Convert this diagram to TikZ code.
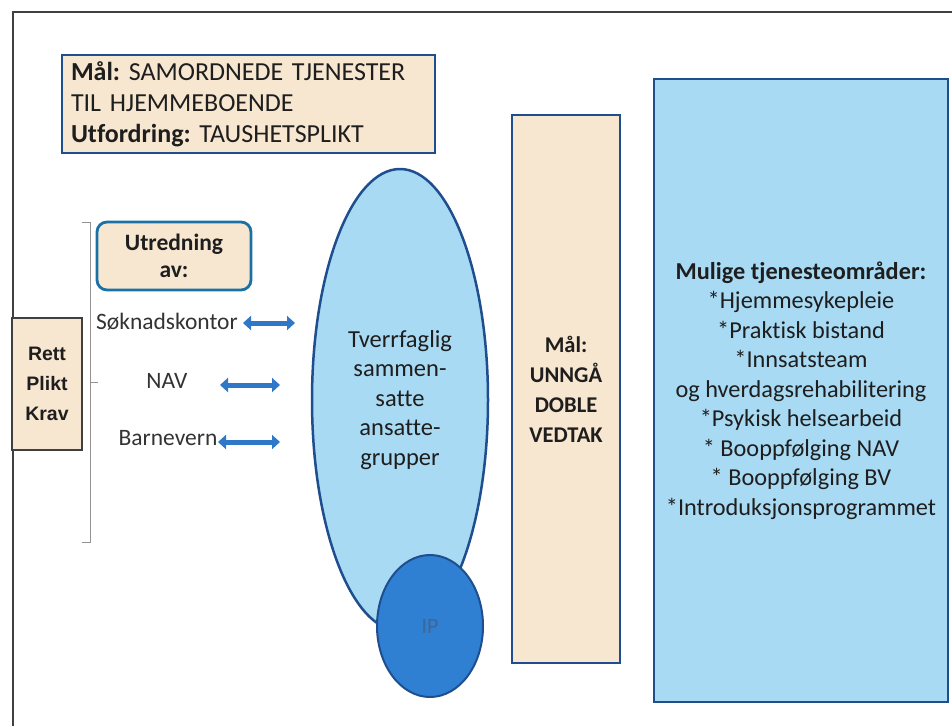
\documentclass[tikz,border=0pt]{standalone}
\usepackage{fontspec}
\setmainfont{Carlito}[Ligatures=NoCommon]
\newfontfamily\arialfam{Liberation Sans}
\usetikzlibrary{shapes.geometric,arrows.meta}
\definecolor{beige}{HTML}{F7E7D0}
\definecolor{skyfill}{HTML}{A9DAF3}
\definecolor{navy}{HTML}{1F4E8F}
\definecolor{ipblue}{HTML}{2F80D3}
\definecolor{iptext}{HTML}{3D6699}
\definecolor{arrowblue}{HTML}{2F77C7}
\definecolor{ink}{HTML}{1E1E1E}
\definecolor{label}{HTML}{333333}
\frenchspacing
\begin{document}
\begin{tikzpicture}[x=1pt,y=-1pt,
  frameline/.style={draw=ink!85, line width=2.5pt},
  beigebox/.style={draw=navy, fill=beige, line width=2.8pt, inner sep=0pt, text=ink},
  bluebox/.style={draw=navy, fill=skyfill, line width=2.8pt, inner sep=0pt, text=ink},
  bracketline/.style={draw=gray!85, line width=1pt},
  unitlabel/.style={text=label, inner sep=0pt, font=\fontsize{23.5}{28}\selectfont},
  dblarrow/.style={draw=arrowblue, line width=5pt,
    {Triangle[length=8pt,width=14pt]}-{Triangle[length=8pt,width=14pt]}}]
\useasboundingbox (0,0) rectangle (952,726);

% outer frame (top and left edges)
\coordinate (frameTR) at (952,12);
\coordinate (frameTL) at (13,12);
\coordinate (frameBL) at (13,726);
\draw[frameline] (frameTR) -- (frameTL) -- (frameBL);

% goal / challenge box
\node[beigebox, minimum width=373, minimum height=98, align=left,
      text width=355, font=\fontsize{26}{31}\selectfont] (goal) at (248.5,104)
  {\textbf{Mål:} SAMORDNEDE TJENESTER\\TIL HJEMMEBOENDE\\\textbf{Utfordring:} TAUSHETSPLIKT};

% left side: rights box, bracket and assessing units
\node[beigebox, draw=ink!85, minimum width=70, minimum height=132, align=center,
      font=\arialfam\bfseries\fontsize{19.5}{30}\selectfont] (rett) at (47,384)
  {Rett\\Plikt\\Krav};

\coordinate (brTopL) at (82,222);
\coordinate (brTopR) at (90,222);
\coordinate (brBotR) at (90,542);
\coordinate (brBotL) at (82,542);
\coordinate (brMid) at (90,382);
\coordinate (brTip) at (98,382);
\draw[bracketline] (brTopL) -- (brTopR) -- (brBotR) -- (brBotL);
\draw[bracketline] (brMid) -- (brTip);

\node[beigebox, draw=navy!80!cyan, rounded corners=10pt, minimum width=154, minimum height=68,
      align=center, font=\bfseries\fontsize{23.5}{27}\selectfont] (utred) at (174,256)
  {Utredning\\av:};

\node[unitlabel] (sok) at (167,322) {Søknadskontor};
\node[unitlabel] (nav) at (167,381) {NAV};
\node[unitlabel] (bv) at (168,438) {Barnevern};

\coordinate (a1s) at (243,323);
\coordinate (a1e) at (295,323);
\coordinate (a2s) at (220,385);
\coordinate (a2e) at (280,385);
\coordinate (a3s) at (218,442);
\coordinate (a3e) at (280,442);
\draw[dblarrow] (a1s) -- (a1e);
\draw[dblarrow] (a2s) -- (a2e);
\draw[dblarrow] (a3s) -- (a3e);

% interdisciplinary groups and IP
\node[ellipse, draw=navy, fill=skyfill, line width=2.5pt, minimum width=176, minimum height=462,
      inner sep=0pt, align=center, text=ink, font=\fontsize{24.5}{29.5}\selectfont] (team) at (400,400)
  {Tverrfaglig\\sammen-\\satte\\ansatte-\\grupper};
\node[ellipse, draw=navy, fill=ipblue, line width=2pt, minimum width=106, minimum height=142,
      inner sep=0pt, text=iptext, font=\fontsize{22}{26}\selectfont] (ip) at (430,626) {IP};

% goal column
\node[beigebox, minimum width=108, minimum height=548, align=center,
      font=\bfseries\fontsize{22.5}{30}\selectfont] (vedtak) at (566,389)
  {Mål:\\UNNGÅ\\DOBLE\\VEDTAK};

% service areas
\node[bluebox, minimum width=294, minimum height=623, align=center,
      font=\fontsize{24.3}{29.5}\selectfont] (omr) at (801,390.5)
  {\textbf{Mulige tjenesteområder:}\\*Hjemmesykepleie\\*Praktisk bistand\\*Innsatsteam\\og hverdagsrehabilitering\\*Psykisk helsearbeid\\* Booppfølging NAV\\* Booppfølging BV\\*Introduksjonsprogrammet};
\end{tikzpicture}
\end{document}
